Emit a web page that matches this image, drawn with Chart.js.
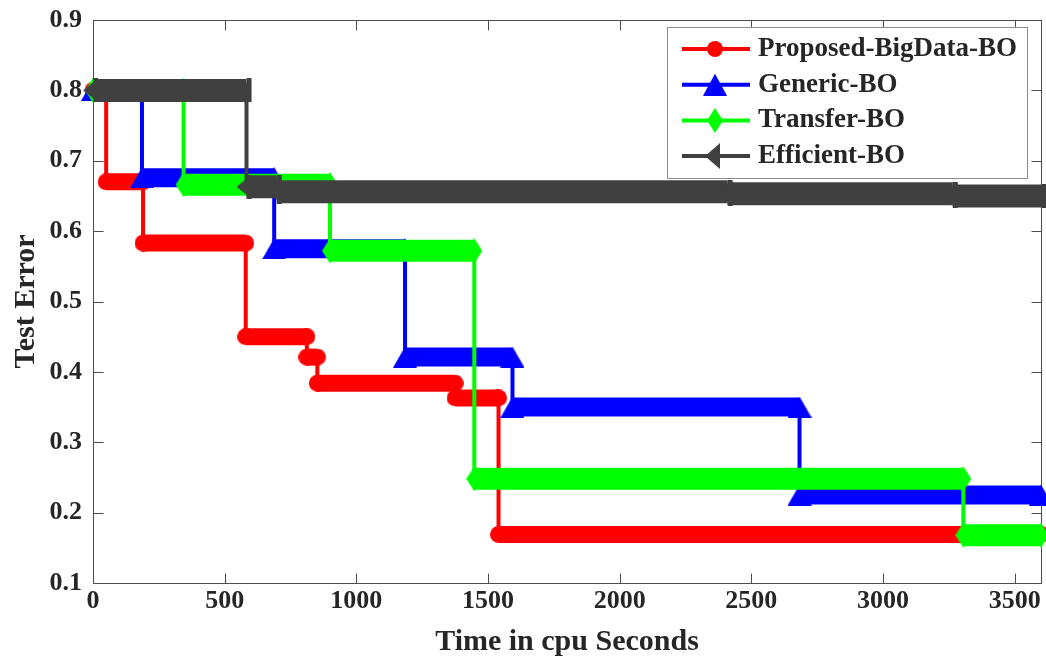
<!DOCTYPE html>
<html>
<head>
<meta charset="utf-8">
<title>Test Error vs Time</title>
<script src="https://cdn.jsdelivr.net/npm/chart.js@4.4.0/dist/chart.umd.min.js"></script>
<style>
  html, body { margin: 0; padding: 0; background: #fff; }
  #wrap { width: 1046px; height: 669px; }
</style>
</head>
<body>
<div id="wrap"><canvas id="chart" width="1046" height="669"></canvas></div>
<script>
// --- data: time (cpu s) where each level starts, and the level ---
const seriesLabels = ['Proposed-BigData-BO', 'Generic-BO', 'Transfer-BO', 'Efficient-BO'];

const proposedTimes = [0, 50, 190, 580, 812, 852, 1375, 1540];
const proposedErrors = [0.800, 0.670, 0.583, 0.450, 0.421, 0.384, 0.363, 0.169];

const genericTimes = [0, 186, 688, 1185, 1593, 2683];
const genericErrors = [0.800, 0.676, 0.575, 0.421, 0.350, 0.225];

const transferTimes = [0, 344, 900, 1448, 3305];
const transferErrors = [0.800, 0.666, 0.572, 0.248, 0.168];

const efficientTimes = [0, 583, 698, 2410, 3265];
const efficientErrors = [0.800, 0.663, 0.656, 0.653, 0.650];

const endTime = 3600;

const xTicks = [0, 500, 1000, 1500, 2000, 2500, 3000, 3500];
const yTicks = [0.1, 0.2, 0.3, 0.4, 0.5, 0.6, 0.7, 0.8, 0.9];

const seriesColors = ['#ff0000', '#0000ff', '#00ff00', '#404040'];
const textColor = '#262626';
const serif = '"Liberation Serif", "Times New Roman", serif';

// --- marker images (MATLAB style markers, drawn dense so they merge into bands) ---
function makeMarker(w, h, color, shape) {
    const c = document.createElement('canvas');
    c.width = w;
    c.height = h;
    const g = c.getContext('2d');
    g.fillStyle = color;
    shape(g, w, h);
    return c;
}

const circleShape = (g, w, h) => { g.beginPath(); g.arc(w / 2, h / 2, w / 2, 0, Math.PI * 2); g.fill(); };
const triUpShape = (g, w, h) => { g.beginPath(); g.moveTo(w / 2, 0); g.lineTo(w, h); g.lineTo(0, h); g.closePath(); g.fill(); };
const diamondShape = (g, w, h) => { g.beginPath(); g.moveTo(w / 2, 0); g.lineTo(w, h / 2); g.lineTo(w / 2, h); g.lineTo(0, h / 2); g.closePath(); g.fill(); };
// left pointing triangle, apex 10px left of centre, flat side 5px right of it
const triLeftShape = (g, w, h) => { g.beginPath(); g.moveTo(0, h / 2); g.lineTo(15, 0); g.lineTo(15, h); g.closePath(); g.fill(); };
const triLeftBandShape = (g, w, h) => { triLeftShape(g, w, h); g.fillRect(10, 0, 5, h); };

const plotMarkers = [
    makeMarker(17, 17, seriesColors[0], circleShape),
    makeMarker(24, 21, seriesColors[1], triUpShape),
    makeMarker(16, 25, seriesColors[2], diamondShape),
    makeMarker(20, 24, seriesColors[3], triLeftBandShape)
];
const legendMarkers = [
    makeMarker(16, 16, seriesColors[0], circleShape),
    makeMarker(24, 22, seriesColors[1], triUpShape),
    makeMarker(16, 25, seriesColors[2], diamondShape),
    makeMarker(20, 26, seriesColors[3], triLeftShape)
];
const bandWidths = [17, 19, 22, 23];

// corners of the step curve: each level is held until the next start time
function stepPoints(times, errors) {
    const pts = [];
    for (let i = 0; i < times.length; i++) {
        const end = i + 1 < times.length ? times[i + 1] : endTime;
        pts.push({ x: times[i], y: errors[i] });
        pts.push({ x: end, y: errors[i] });
    }
    return pts;
}

function makeDataset(i, times, errors) {
    const isFlat = c => Math.abs(c.p0.y - c.p1.y) < 0.01;
    return {
        label: seriesLabels[i],
        data: stepPoints(times, errors),
        borderColor: seriesColors[i],
        backgroundColor: seriesColors[i],
        borderWidth: 4,
        borderCapStyle: 'butt',
        borderJoinStyle: 'miter',
        tension: 0,
        fill: false,
        clip: false,
        pointStyle: plotMarkers[i],
        pointRadius: 10,
        pointBorderWidth: 0,
        order: 4 - i,
        segment: {
            borderWidth: c => isFlat(c) ? bandWidths[i] : 4
        }
    };
}

// --- box frame with inward ticks on all four sides ---
const framePlugin = {
    id: 'frame',
    beforeDatasetsDraw(chart) {
        const { ctx, chartArea: a, scales: { x, y } } = chart;
        const L = Math.round(a.left) + 0.5, R = Math.round(a.right) + 0.5;
        const T = Math.round(a.top) + 0.5, B = Math.round(a.bottom) + 0.5;
        ctx.save();
        ctx.strokeStyle = '#4d4d4d';
        ctx.lineWidth = 1;
        ctx.strokeRect(L, T, R - L, B - T);
        ctx.beginPath();
        xTicks.forEach(v => {
            const px = Math.round(x.getPixelForValue(v)) + 0.5;
            ctx.moveTo(px, B); ctx.lineTo(px, B - 10);
            ctx.moveTo(px, T); ctx.lineTo(px, T + 10);
        });
        yTicks.forEach(v => {
            const py = Math.round(y.getPixelForValue(v)) + 0.5;
            ctx.moveTo(L, py); ctx.lineTo(L + 10, py);
            ctx.moveTo(R, py); ctx.lineTo(R - 10, py);
        });
        ctx.stroke();
        ctx.restore();
    }
};

// --- boxed legend in the upper right, line + marker samples ---
const legendPlugin = {
    id: 'boxLegend',
    afterDraw(chart) {
        const ctx = chart.ctx;
        ctx.save();
        ctx.fillStyle = '#ffffff';
        ctx.fillRect(667, 27, 360, 151);
        ctx.strokeStyle = '#8c8c8c';
        ctx.lineWidth = 1;
        ctx.strokeRect(667.5, 27.5, 360, 151);
        ctx.font = 'bold 27px ' + serif;
        ctx.textBaseline = 'middle';
        seriesLabels.forEach((label, i) => {
            const yy = 49 + i * 35.7;
            ctx.strokeStyle = seriesColors[i];
            ctx.lineWidth = 4;
            ctx.beginPath();
            ctx.moveTo(682, yy);
            ctx.lineTo(750, yy);
            ctx.stroke();
            const m = legendMarkers[i];
            ctx.drawImage(m, 715 - m.width / 2, yy - m.height / 2);
            ctx.fillStyle = textColor;
            ctx.fillText(label, 758, yy);
        });
        ctx.restore();
    }
};

const tickFont = { family: serif, size: 26, weight: 'bold' };
const titleFont = { family: serif, size: 30, weight: 'bold' };

new Chart(document.getElementById('chart').getContext('2d'), {
    type: 'line',
    data: {
        datasets: [
            makeDataset(0, proposedTimes, proposedErrors),
            makeDataset(1, genericTimes, genericErrors),
            makeDataset(2, transferTimes, transferErrors),
            makeDataset(3, efficientTimes, efficientErrors)
        ]
    },
    options: {
        responsive: false,
        animation: false,
        events: [],
        layout: { autoPadding: false, padding: { left: 0, top: 20, right: 5, bottom: 0 } },
        plugins: {
            legend: { display: false },
            tooltip: { enabled: false }
        },
        scales: {
            x: {
                type: 'linear',
                min: 0,
                max: endTime,
                afterBuildTicks: s => { s.ticks = xTicks.map(v => ({ value: v })); },
                afterFit: s => { s.height = 86; s.paddingLeft = 0; s.paddingRight = 0; },
                grid: { display: false, drawTicks: false },
                border: { display: false },
                ticks: {
                    font: tickFont,
                    color: textColor,
                    padding: 3,
                    autoSkip: false,
                    maxRotation: 0,
                    callback: v => String(v)
                },
                title: {
                    display: true,
                    text: 'Time in cpu Seconds',
                    font: titleFont,
                    color: textColor,
                    padding: { top: 0, bottom: 9 }
                }
            },
            y: {
                type: 'linear',
                min: 0.1,
                max: 0.9,
                afterBuildTicks: s => { s.ticks = yTicks.map(v => ({ value: v })); },
                afterFit: s => { s.width = 93; s.paddingTop = 0; s.paddingBottom = 0; },
                grid: { display: false, drawTicks: false },
                border: { display: false },
                ticks: {
                    font: tickFont,
                    color: textColor,
                    padding: 11,
                    autoSkip: false,
                    callback: v => v.toFixed(1)
                },
                title: {
                    display: true,
                    text: 'Test Error',
                    font: titleFont,
                    color: textColor,
                    padding: { top: 8, bottom: 0 }
                }
            }
        }
    },
    plugins: [framePlugin, legendPlugin]
});
</script>
</body>
</html>
